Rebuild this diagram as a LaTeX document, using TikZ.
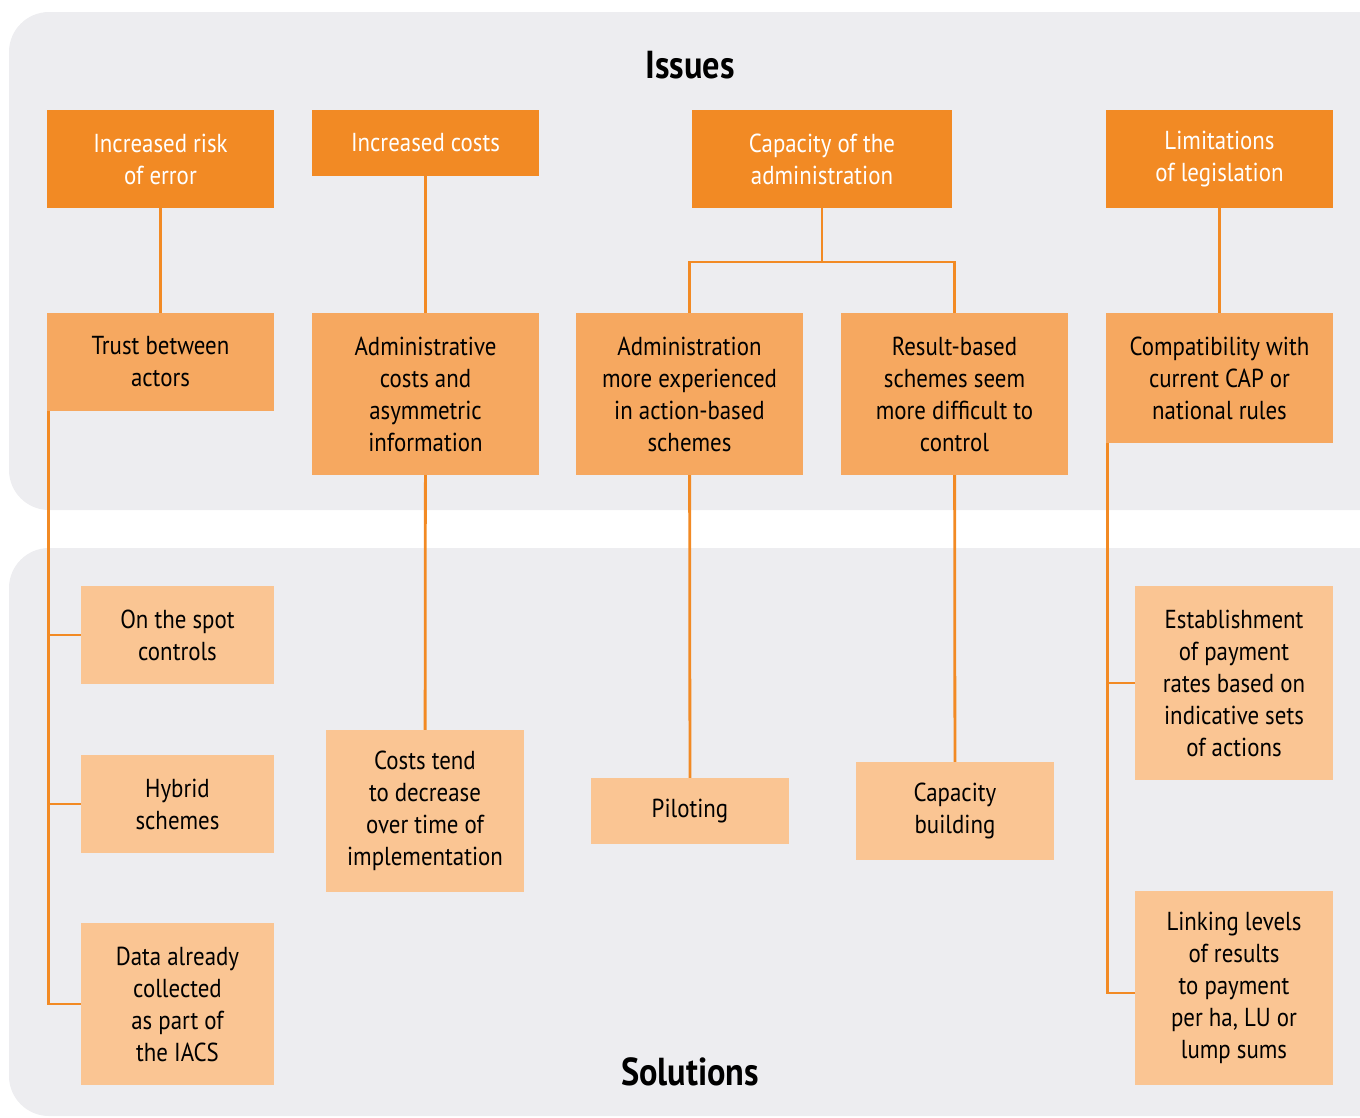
\documentclass[tikz,border=0pt]{standalone}
\usepackage{fontspec}
\setmainfont[FakeStretch=0.88]{PT Sans}
\begin{document}
\begin{tikzpicture}[x=1pt,y=-1pt,
  box/.style={rectangle, inner sep=0pt, align=center, font=\fontsize{26}{32}\selectfont},
  dk/.style={box, fill=orDark, text=white},
  md/.style={box, fill=orMed, text=black},
  lt/.style={box, fill=orLight, text=black},
  conn/.style={draw=orDark, line width=2.8pt},
  title/.style={font=\fontsize{39}{40}\selectfont\bfseries}]
\definecolor{orDark}{HTML}{F28A24}
\definecolor{orMed}{HTML}{F6A860}
\definecolor{orLight}{HTML}{FAC593}
\definecolor{panel}{HTML}{EDEDF0}
\useasboundingbox (0,0) rectangle (1360,1117);
\fill[panel, rounded corners=40pt] (9,12) rectangle (1420,510);
\fill[panel, rounded corners=40pt] (9,548) rectangle (1420,1116);
\node[title] (issues) at (690,65) {Issues};
\node[title] (solutions) at (690,1072) {Solutions};
% row 1
\node[dk, minimum width=227pt, minimum height=98pt] (a1) at (160.5,159) {Increased risk\\of error};
\node[dk, minimum width=227pt, minimum height=66pt] (a2) at (425.5,143) {Increased costs};
\node[dk, minimum width=260pt, minimum height=98pt] (a3) at (822,159) {Capacity of the\\administration};
\node[dk, minimum width=227pt, minimum height=98pt] (a4) at (1219.5,159) {Limitations\\of legislation};
% row 2
\node[md, minimum width=227pt, minimum height=98pt] (b1) at (160.5,362) {Trust between\\actors};
\node[md, minimum width=227pt, minimum height=162pt] (b2) at (425.5,394) {Administrative\\costs and\\asymmetric\\information};
\node[md, minimum width=227pt, minimum height=162pt] (b3) at (689.5,394) {Administration\\more experienced\\in action-based\\schemes};
\node[md, minimum width=227pt, minimum height=162pt] (b4) at (954.5,394) {Result-based\\schemes seem\\more difficult to\\control};
\node[md, minimum width=227pt, minimum height=130pt] (b5) at (1219.5,378) {Compatibility with\\current CAP or\\national rules};
% row 3
\node[lt, minimum width=193pt, minimum height=98pt] (c1) at (177.5,635) {On the spot\\controls};
\node[lt, minimum width=193pt, minimum height=98pt] (c2) at (177.5,804) {Hybrid\\schemes};
\node[lt, minimum width=193pt, minimum height=162pt] (c3) at (177.5,1004) {Data already\\collected\\as part of\\the IACS};
\node[lt, minimum width=198pt, minimum height=162pt] (c4) at (425,811) {Costs tend\\to decrease\\over time of\\implementation};
\node[lt, minimum width=198pt, minimum height=66pt] (c5) at (690,811) {Piloting};
\node[lt, minimum width=198pt, minimum height=98pt] (c6) at (955,811) {Capacity\\building};
\node[lt, minimum width=198pt, minimum height=194pt] (c7) at (1234,683) {Establishment\\of payment\\rates based on\\indicative sets\\of actions};
\node[lt, minimum width=198pt, minimum height=194pt] (c8) at (1234,988) {Linking levels\\of results\\to payment\\per ha, LU or\\lump sums};
% connectors
\draw[conn] (a1) -- (b1);
\draw[conn] (a2) -- (b2);
\coordinate (j3) at (822,262);
\draw[conn] (a3.south) -- (j3);
\draw[conn] (b3.north) |- (j3) -| (b4.north);
\draw[conn] (a4) -- (b5);
\draw[conn] (b2) -- (c4);
\draw[conn] (b3) -- (c5);
\draw[conn] (b4) -- (c6);
\coordinate (t1) at ([xshift=1.4pt]b1.south west);
\draw[conn] (t1) |- (c3.west);
\draw[conn] (t1 |- c1.west) -- (c1.west);
\draw[conn] (t1 |- c2.west) -- (c2.west);
\coordinate (t2) at ([xshift=1.4pt]b5.south west);
\coordinate (c8in) at ([yshift=-5pt]c8.west);
\draw[conn] (t2) |- (c8in);
\draw[conn] (t2 |- c7.west) -- (c7.west);
\end{tikzpicture}
\end{document}
